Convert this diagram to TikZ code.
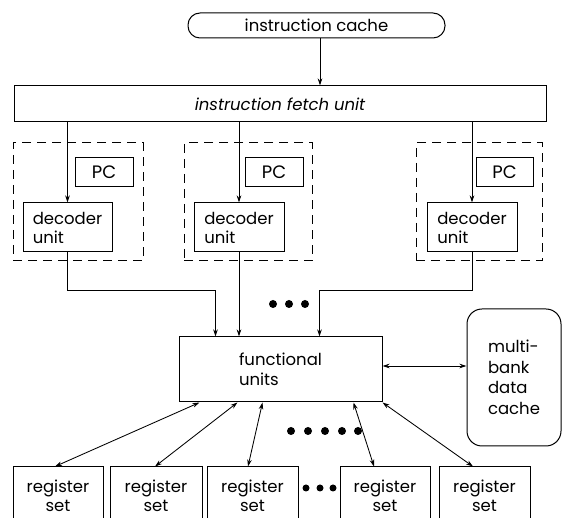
\documentclass[tikz,border=0pt]{standalone}
\usepackage{fontspec}
\setmainfont{Poppins}
\usetikzlibrary{arrows.meta}
\tikzset{
  box/.style={draw, line width=1pt, inner sep=0pt, font=\fontsize{16.5}{19}\selectfont},
  dashbox/.style={draw, line width=1pt, dash pattern=on 9pt off 6pt, inner sep=0pt},
  link/.style={line width=0.85pt, -{Stealth[length=7pt,width=4.5pt]}},
  link2/.style={line width=0.85pt, {Stealth[length=7pt,width=4.5pt]}-{Stealth[length=7pt,width=4.5pt]}},
  dot/.style={circle, fill, inner sep=0pt, minimum size=8pt},
  pcbox/.style={box, minimum height=29pt, font=\fontsize{18}{20}\selectfont},
}
\begin{document}
\begin{tikzpicture}[x=1pt, y=-1pt]
\useasboundingbox (0,0) rectangle (563,518);
\clip (0,0) rectangle (563,518);

% instruction path
\node[box, rounded corners=12pt, minimum width=257pt, minimum height=25pt] (icache) at (316.5,25.5) {instruction cache};
\node[box, minimum width=532pt, minimum height=36pt] (fetch) at (280,104) {\itshape instruction fetch unit};

% per-thread decoder groups
\node[dashbox, minimum width=130pt, minimum height=118pt] (grp1) at (78,202) {};
\node[dashbox, minimum width=128pt, minimum height=118pt] (grp2) at (248,202) {};
\node[dashbox, minimum width=126pt, minimum height=118pt] (grp3) at (479,202) {};

\node[pcbox, minimum width=58pt] (pc1) at (104,172.5) {PC};
\node[pcbox, minimum width=58pt] (pc2) at (274,172.5) {PC};
\node[pcbox, minimum width=57pt] (pc3) at (504.5,172.5) {PC};

\node[box, align=left, minimum width=89pt, minimum height=49pt] (dec1) at (67.5,227.5) {decoder\\unit};
\node[box, align=left, minimum width=90pt, minimum height=49pt] (dec2) at (239,227.5) {decoder\\unit};
\node[box, align=left, minimum width=90pt, minimum height=49pt] (dec3) at (472,227.5) {decoder\\unit};

% execution core
\node[box, align=left, minimum width=203pt, minimum height=65pt, font=\fontsize{16.5}{20}\selectfont] (fu) at (280.5,369.5) {functional\\units};
\node[box, align=left, rounded corners=15pt, minimum width=94pt, minimum height=137pt, font=\fontsize{16.5}{20.5}\selectfont] (dcache) at (514,377.5) {multi-\\bank\\data\\cache};

% register sets
\node[box, align=center, minimum width=90pt, minimum height=57pt] (reg1) at (58,495.5) {register\\set};
\node[box, align=center, minimum width=92pt, minimum height=57pt] (reg2) at (156,495.5) {register\\set};
\node[box, align=center, minimum width=91pt, minimum height=57pt] (reg3) at (252.5,495.5) {register\\set};
\node[box, align=center, minimum width=90pt, minimum height=57pt] (reg4) at (385,495.5) {register\\set};
\node[box, align=center, minimum width=91pt, minimum height=57pt] (reg5) at (484.5,495.5) {register\\set};

% ellipsis dots
\node[dot] (da1) at (273,304) {};
\node[dot] (da2) at (289,304) {};
\node[dot] (da3) at (305,304) {};
\foreach \i/\x in {1/291,2/308,3/325,4/342,5/358}
  \node[dot] (db\i) at (\x,431) {};
\node[dot, minimum size=7pt] (dc1) at (306,488) {};
\node[dot, minimum size=7pt] (dc2) at (320,488) {};
\node[dot, minimum size=7pt] (dc3) at (333,488) {};

% connectors
\draw[link] ([xshift=3.5pt]icache.south) -- ([xshift=3.5pt]icache.south |- fetch.north);
\draw[link] (dec1.north |- fetch.south) -- (dec1.north);
\draw[link] (dec2.north |- fetch.south) -- (dec2.north);
\draw[link] (dec3.north |- fetch.south) -- (dec3.north);

\draw[link] (dec1.south) -- ++(0,38) -| ([xshift=37pt]fu.north west);
\draw[link] (dec2.south) -- (dec2.south |- fu.north);
\draw[link] (dec3.south) -- ++(0,38) -| ([xshift=141pt]fu.north west);

\draw[link2] ([yshift=3.5pt]fu.east) -- ([yshift=3.5pt]fu.east -| dcache.west);

\draw[link2] ([xshift=21pt]fu.south west) -- ([xshift=-3pt]reg1.north);
\draw[link2] ([xshift=59pt]fu.south west) -- ([xshift=-1pt]reg2.north);
\draw[link2] ([xshift=84pt]fu.south west) -- ([xshift=-4.5pt]reg3.north);
\draw[link2] ([xshift=175pt]fu.south west) -- ([xshift=-11pt]reg4.north);
\draw[link2] (fu.south east) -- ([xshift=-11.5pt]reg5.north);
\end{tikzpicture}
\end{document}
